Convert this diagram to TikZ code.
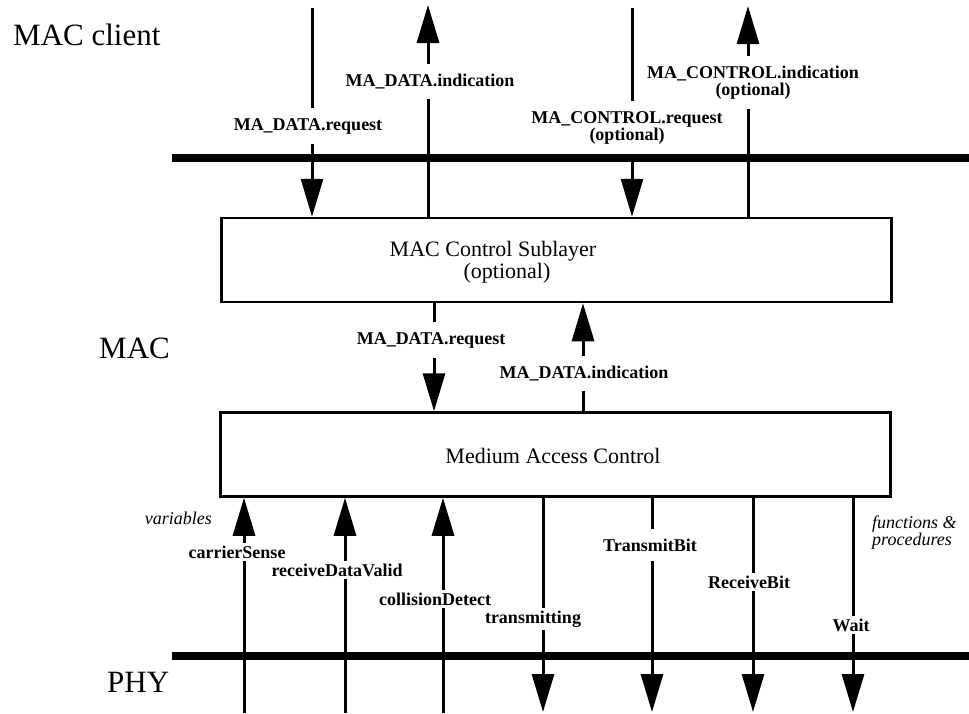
\documentclass[tikz,border=0pt]{standalone}
\usepackage{fontspec}
\setmainfont{Liberation Serif}
\usetikzlibrary{arrows.meta}
\begin{document}
\begin{tikzpicture}[x=1pt,y=-1pt,
  conn/.style={line width=3pt,-{Triangle[length=38pt,width=22pt]}},
  bar/.style={line width=8pt},
  layerbox/.style={draw,line width=2.5pt,minimum width=670pt,minimum height=84pt,inner sep=0pt},
  boxtext/.style={font=\fontsize{22}{20}\selectfont,anchor=base,inner sep=0pt},
  sidetext/.style={font=\fontsize{31}{31}\selectfont,anchor=base west,inner sep=0pt},
  lab/.style={font=\fontsize{18}{17}\selectfont\bfseries,fill=white,anchor=base,inner xsep=1pt,inner ysep=10pt,align=center},
  lablow/.style={lab,inner ysep=3pt},
  note/.style={font=\fontsize{18}{17}\selectfont\itshape,inner sep=0pt,align=left}
]
\useasboundingbox (0,0) rectangle (969,713);

% layer boxes
\node[layerbox] (mcs) at (556.5,260) {};
\node[layerbox] (mac) at (555.5,454.5) {};

% free ends
\coordinate (t1) at (312,8);
\coordinate (t2) at (428,5);
\coordinate (t3) at (632,8);
\coordinate (t4) at (748,6);
\coordinate (b1) at (244,713);
\coordinate (b2) at (345,713);
\coordinate (b3) at (443,713);
\coordinate (b4) at (543,712);
\coordinate (b5) at (652,712);
\coordinate (b6) at (753,712);
\coordinate (b7) at (853,712);
\coordinate (m1) at (434,0);
\coordinate (m2) at (583,0);

% connectors
\draw[conn] (t1) -- (mcs.north -| t1);
\draw[conn] (mcs.north -| t2) -- (t2);
\draw[conn] (t3) -- (mcs.north -| t3);
\draw[conn] (mcs.north -| t4) -- (t4);
\draw[conn] (mcs.south -| m1) -- (mac.north -| m1);
\draw[conn] (mac.north -| m2) -- (mcs.south -| m2);
\draw[conn] (b1) -- (mac.south -| b1);
\draw[conn] (b2) -- (mac.south -| b2);
\draw[conn] (b3) -- (mac.south -| b3);
\draw[conn] (mac.south -| b4) -- (b4);
\draw[conn] (mac.south -| b5) -- (b5);
\draw[conn] (mac.south -| b6) -- (b6);
\draw[conn] (mac.south -| b7) -- (b7);

% service boundaries
\coordinate (topL) at (172,158);
\coordinate (topR) at (969,158);
\coordinate (botL) at (172,656);
\coordinate (botR) at (969,656);
\draw[bar] (topL) -- (topR);
\draw[bar] (botL) -- (botR);

% connector labels
\node[lab] (l1) at (308,130) {MA\_DATA.request};
\node[lab] (l2) at (430,86) {MA\_DATA.indication};
\node[lab] (l3) at (627,140) {MA\_CONTROL.request\\(optional)};
\node[lab] (l4) at (753,95) {MA\_CONTROL.indication\\(optional)};
\node[lab] (l5) at (431,344) {MA\_DATA.request};
\node[lab] (l6) at (584,378) {MA\_DATA.indication};
\node[lablow] (l7) at (237,558) {carrierSense};
\node[lablow] (l8) at (337,576) {receiveDataValid};
\node[lablow] (l9) at (435,605) {collisionDetect};
\node[lablow] (l10) at (533,623) {transmitting};
\node[lab] (l11) at (650,551) {TransmitBit};
\node[lablow] (l12) at (749,588) {ReceiveBit};
\node[lablow] (l13) at (851,631) {Wait};

% box texts
\node[boxtext] (mcs1) at (493,256) {MAC Control Sublayer};
\node[boxtext] (mcs2) at (507,278) {(optional)};
\node[boxtext] (mact) at (553,463) {Medium Access Control};

% side texts
\node[sidetext] (sc) at (13,45) {MAC client};
\node[sidetext] (sm) at (99,358) {MAC};
\node[sidetext] (sp) at (107,692) {PHY};

% notes
\node[note,anchor=base east] (nv) at (212,524) {variables};
\node[note,anchor=base west] (nf) at (872,545) {functions \&\\procedures};
\end{tikzpicture}
\end{document}
